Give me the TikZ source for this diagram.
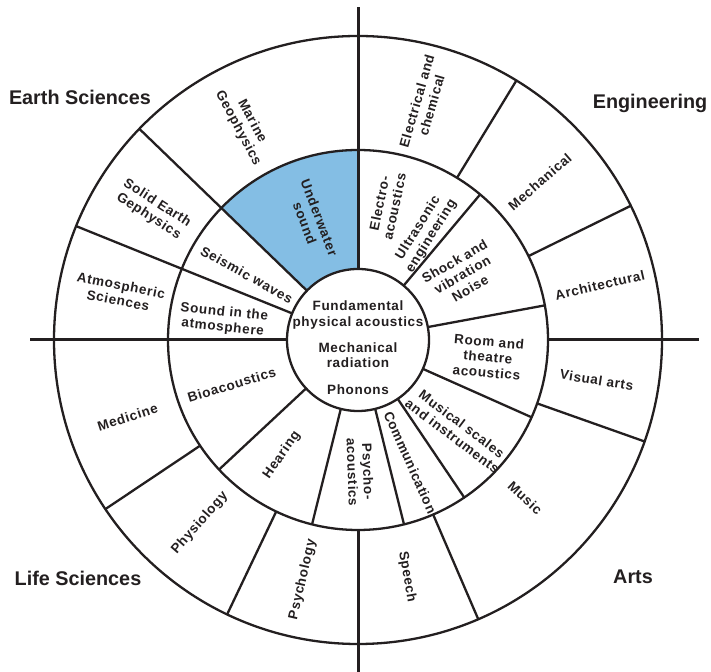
\documentclass[tikz,border=0pt]{standalone}
\usepackage{fontspec}
\setmainfont{Liberation Sans}
\newfontfamily\wheelfont{Liberation Sans}[LetterSpace=5]
\usetikzlibrary{positioning,calc}
\definecolor{uwblue}{RGB}{132,190,228}
\definecolor{ink}{RGB}{35,31,32}
\tikzstyle{ring}=[line width=2.3pt, draw=ink]
\tikzstyle{spoke}=[line width=2.3pt, draw=ink, line cap=butt]
\tikzstyle{axis}=[line width=3pt, draw=ink]
\tikzstyle{lbl}=[font=\wheelfont\bfseries\fontsize{13.5}{15.5}\selectfont, text=ink,
                 align=center, inner sep=0pt]
\tikzstyle{field}=[font=\bfseries\fontsize{19.8}{22}\selectfont, text=ink, inner sep=0pt]

\begin{document}
\begin{tikzpicture}[x=1pt,y=1pt]
\useasboundingbox (0,0) rectangle (711,671);

\begin{scope}[shift={(358,331)}]
% shaded sector
\fill[uwblue] (90:71) -- (90:190) arc[start angle=90, end angle=136, radius=190]
  -- (136:71) arc[start angle=136, end angle=90, radius=71] -- cycle;

\draw[ring] (0,0) circle[radius=190];
\draw[ring] (0,0) circle[radius=304];
\draw[ring, fill=white] (0,0) circle[radius=71];

% the two axes
\draw[axis] (90:71) -- (0,333);
\draw[axis] (270:190) -- (0,-332);
\draw[axis] (180:71) -- (-328,0);
\draw[axis] (0:190) -- (341,0);

% spokes, inner ring then outer ring
\foreach \a in {136,158,223,256,284,304,336,10.5,50}
  \draw[spoke] (\a:71) -- (\a:190);
\foreach \a in {136,158,58.6,26.2,340.5,293.3,244.5,213.8}
  \draw[spoke] (\a:190) -- (\a:304);

% centre
\node (FPA) [lbl] at (0,25) {Fundamental\\physical acoustics};
\node (MRAD) [lbl] at (0,-15) {Mechanical\\radiation};
\node (PHON) [lbl] at (0,-50) {Phonons};

% inner ring
\node (UWS)  [lbl, rotate=-69] at (111:128) {Underwater\\sound};
\node (EAC)  [lbl, rotate=78]  at (77.9:138) {Electro-\\acoustics};
\node (USE)  [lbl, rotate=58]  at (58.2:127) {Ultrasonic\\engineering};
\node (SVN)  [lbl, rotate=30]  at (32:123) {Shock and\\vibration\\Noise};
\node (RTA)  [lbl, rotate=-5]  at (-7.5:131) {Room and\\theatre\\acoustics};
\node (MSI)  [lbl, rotate=-37] at (-42.3:134) {Musical scales\\and instruments};
\node (COMM) [lbl, rotate=-66] at (-66.9:133) {Communication};
\node (PSYA) [lbl, rotate=-88] at (-89:132) {Psycho-\\acoustics};
\node (HEAR) [lbl, rotate=55]  at (236.5:138) {Hearing};
\node (BIOA) [lbl, rotate=17]  at (199.6:134) {Bioacoustics};
\node (SATM) [lbl, rotate=-6]  at (171.6:136) {Sound in the\\atmosphere};
\node (SEIS) [lbl, rotate=-29] at (149.6:129) {Seismic waves};

% outer ring
\node (MARG) [lbl, rotate=-62] at (117.7:243) {Marine\\Geophysics};
\node (ELCH) [lbl, rotate=74]  at (74.4:246) {Electrical and\\chemical};
\node (MECH) [lbl, rotate=41]  at (41:241) {Mechanical};
\node (ARCH) [lbl, rotate=13]  at (12.8:248) {Architectural};
\node (VISA) [lbl, rotate=-9]  at (-9.5:242) {Visual arts};
\node (MUS)  [lbl, rotate=-43] at (-43.4:230) {Music};
\node (SPCH) [lbl, rotate=-80] at (-78.3:242) {Speech};
\node (PSYC) [lbl, rotate=77]  at (257:246) {Psychology};
\node (PHYS) [lbl, rotate=49]  at (229.2:242) {Physiology};
\node (MED)  [lbl, rotate=18]  at (198.5:243) {Medicine};
\node (ATMS) [lbl, rotate=-11] at (168.8:243) {Atmospheric\\Sciences};
\node (SEG)  [lbl, rotate=-33] at (147.6:243) {Solid Earth\\Gephysics};
\end{scope}

% the four fields
\node (EARTH) [field] at (80,574) {Earth Sciences};
\node (ENG)   [field] at (650,568) {Engineering};
\node (LIFE)  [field] at (78,93) {Life Sciences};
\node (ARTS)  [field] at (633,94) {Arts};

\end{tikzpicture}
\end{document}
